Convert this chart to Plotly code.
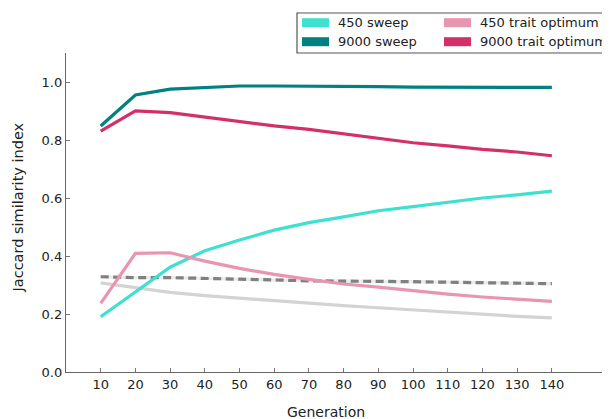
import plotly.graph_objects as go

generations = [10, 20, 30, 40, 50, 60, 70, 80, 90, 100, 110, 120, 130, 140]
sweep_450 = [0.191, 0.276, 0.362, 0.419, 0.456, 0.490, 0.516, 0.536, 0.557, 0.571, 0.587, 0.601, 0.612, 0.625]
sweep_9000 = [0.850, 0.957, 0.977, 0.983, 0.988, 0.988, 0.988, 0.988, 0.986, 0.984, 0.983, 0.983, 0.983, 0.983]
trait_450 = [0.237, 0.410, 0.412, 0.383, 0.358, 0.337, 0.320, 0.304, 0.293, 0.280, 0.269, 0.259, 0.251, 0.244]
trait_9000 = [0.832, 0.902, 0.896, 0.880, 0.865, 0.850, 0.838, 0.822, 0.807, 0.792, 0.781, 0.769, 0.760, 0.747]
null_dashed = [0.329, 0.326, 0.326, 0.324, 0.320, 0.318, 0.315, 0.313, 0.313, 0.312, 0.310, 0.308, 0.306, 0.305]
null_solid = [0.308, 0.291, 0.275, 0.264, 0.255, 0.245, 0.237, 0.229, 0.222, 0.214, 0.206, 0.199, 0.192, 0.187]
x_ticks = [10, 20, 30, 40, 50, 60, 70, 80, 90, 100, 110, 120, 130, 140]
y_ticks = [0.0, 0.2, 0.4, 0.6, 0.8, 1.0]
legend_names = ["450 sweep", "9000 sweep", "450 trait optimum", "9000 trait optimum"]
legend_colors = ["#40E0D0", "#008080", "#E895B0", "#D3306A"]

FONT = "DejaVu Sans"
OFF = 8  # page body margin offset
W, H = 610 - OFF, 419 - OFF
L, R, T, B = 66 - OFF, 606 - OFF, 53 - OFF, 372 - OFF

fig = go.Figure()

# faint band behind dashed line
band = 0.006
fig.add_trace(go.Scatter(x=generations, y=[v + band for v in null_dashed], mode="lines",
                         line=dict(width=0), showlegend=False, hoverinfo="skip"))
fig.add_trace(go.Scatter(x=generations, y=[v - band for v in null_dashed], mode="lines",
                         line=dict(width=0), fill="tonexty", fillcolor="rgba(200,200,200,0.35)",
                         showlegend=False, hoverinfo="skip"))

fig.add_trace(go.Scatter(x=generations, y=null_solid, mode="lines",
                         line=dict(color="#D3D3D3", width=3.2), showlegend=False))
fig.add_trace(go.Scatter(x=generations, y=null_dashed, mode="lines",
                         line=dict(color="#808080", width=3.2, dash="8px,4.5px"), showlegend=False))
series = [sweep_450, sweep_9000, trait_450, trait_9000]
for name, col, ys in zip(legend_names, legend_colors, series):
    fig.add_trace(go.Scatter(x=generations, y=ys, mode="lines", name=name,
                             line=dict(color=col, width=3.2), showlegend=False))

# target-pixel -> paper coordinate helpers (target pixels measured on the 610x419 page)
def px_x(p):
    return (p - OFF - L) / (R - L)

def px_y(p):
    return (B - (p - OFF)) / (B - T)

shapes = []
annotations = []
# right spine (faint)
shapes.append(dict(type="line", xref="paper", yref="paper", x0=1, x1=1, y0=0, y1=1,
                   line=dict(color="#DDDDDD", width=1)))
# legend box
shapes.append(dict(type="rect", xref="paper", yref="paper", x0=px_x(297), x1=px_x(640),
                   y0=px_y(53), y1=px_y(13), line=dict(color="#555555", width=1.2),
                   fillcolor="white", layer="above"))
patch_x = [302, 302, 444, 444]
text_x = [339, 339, 481, 481]
rows_y = [22.7, 41.7, 22.7, 41.7]
for i, (name, col) in enumerate(zip(legend_names, legend_colors)):
    shapes.append(dict(type="rect", xref="paper", yref="paper",
                       x0=px_x(patch_x[i]), x1=px_x(patch_x[i] + 27),
                       y0=px_y(rows_y[i] + 4.5), y1=px_y(rows_y[i] - 4.5),
                       line=dict(width=0), fillcolor=col, layer="above"))
    annotations.append(dict(xref="paper", yref="paper", x=px_x(text_x[i]), y=px_y(rows_y[i]),
                            text=name, showarrow=False, xanchor="left", yanchor="middle",
                            xshift=-3,
                            font=dict(family=FONT, size=13, color="#222222")))

# axis titles
annotations.append(dict(xref="paper", yref="paper", x=px_x(326), y=px_y(411.5),
                        text="Generation", showarrow=False, xanchor="center", yanchor="middle",
                        font=dict(family=FONT, size=14, color="#222222")))
annotations.append(dict(xref="paper", yref="paper", x=px_x(17.5), y=px_y(208),
                        text="Jaccard similarity index", showarrow=False, textangle=-90,
                        xanchor="center", yanchor="middle",
                        font=dict(family=FONT, size=14.5, color="#222222")))

fig.update_layout(
    width=W, height=H,
    margin=dict(l=L, r=W - R, t=T, b=H - B, pad=0, autoexpand=False),
    paper_bgcolor="white", plot_bgcolor="white",
    font=dict(family=FONT, size=13, color="#222222"),
    shapes=shapes, annotations=annotations, showlegend=False,
)
fig.update_xaxes(range=[0, 155.6], tickvals=x_ticks, ticktext=[str(t) for t in x_ticks],
                 ticks="inside", ticklen=4, tickcolor="#777777", showgrid=False, zeroline=False,
                 showline=True, linecolor="#666666", linewidth=1.3, mirror=False, automargin=False,
                 tickfont=dict(family=FONT, size=13, color="#222222"))
fig.update_yaxes(range=[0, 1.102], tickvals=y_ticks, ticktext=[f"{t:.1f}" for t in y_ticks],
                 ticks="inside", ticklen=4, tickcolor="#777777", showgrid=False, zeroline=False,
                 showline=True, linecolor="#666666", linewidth=1.3, mirror=True, automargin=False,
                 tickfont=dict(family=FONT, size=13, color="#222222"))

fig.write_html("out.html")
